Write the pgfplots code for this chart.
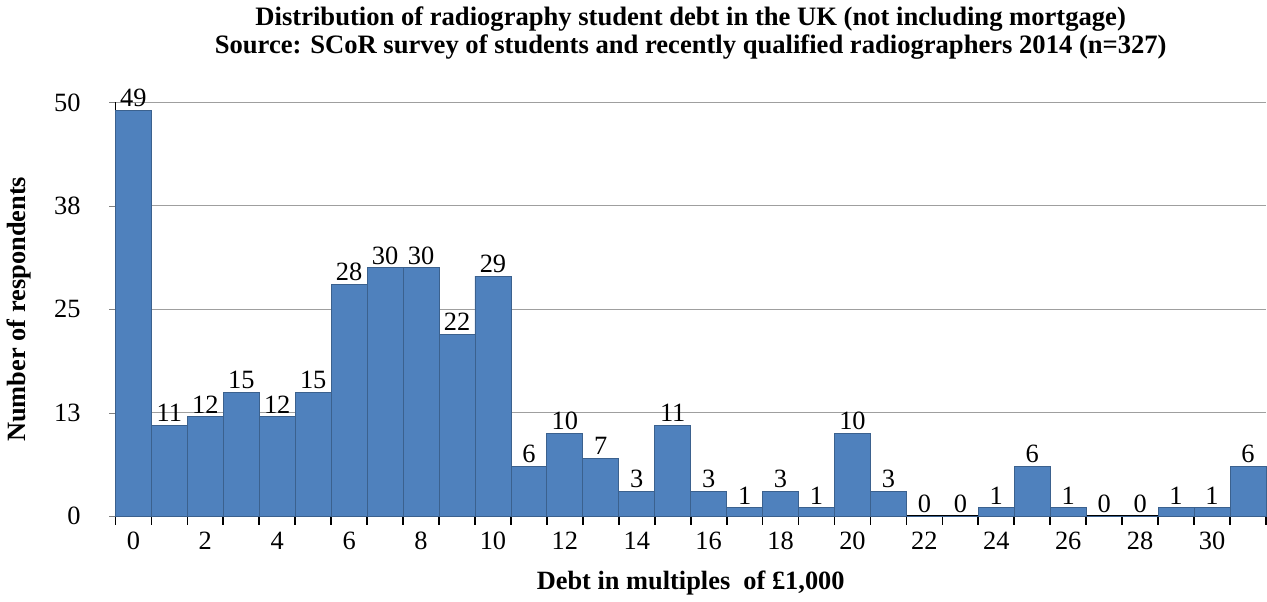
\documentclass[border=0pt]{standalone}
\usepackage{pgfplots}
\pgfplotsset{compat=1.18}
\usepackage{fontspec}
\setmainfont{Liberation Serif}
\definecolor{barblue}{HTML}{4F81BD}
\begin{document}
\begin{tikzpicture}
\begin{axis}[
  scale only axis,
  width=545pt, height=196pt,
  ybar, bar width=1,
  xmin=-0.5, xmax=31.5, ymin=0, ymax=50,
  axis lines*=left,
  x axis line style={line width=1pt},
  y axis line style={line width=0.5pt},
  tick align=outside,
  xtick={0,2,...,30},
  major x tick style={draw=none},
  minor xtick={-0.5,0.5,...,31.5},
  minor tick length=4pt,
  minor x tick style={black, line width=0.8pt},
  ytick={0,12.5,25,37.5,50},
  yticklabels={0,13,25,38,50},
  major tick length=3pt,
  ymajorgrids,
  grid style={gray!75, line width=0.6pt},
  /pgf/number format/assume math mode=true,
  ticklabel style={font=\fontsize{12.5}{14}\selectfont},
  xticklabel style={yshift=-1pt},
  yticklabel style={xshift=-10pt},
  nodes near coords,
  every node near coord/.append style={font=\fontsize{12.5}{14}\selectfont, black, inner sep=1.5pt},
  clip=false,
  title={Distribution of radiography student debt in the UK (not including mortgage)\\Source: SCoR survey of students and recently qualified radiographers 2014 (n=327)},
  title style={font=\bfseries\fontsize{12.6}{13}\selectfont, align=center, yshift=11pt},
  xlabel={Debt in multiples\ \ of £1,000},
  xlabel style={font=\bfseries\fontsize{12.5}{14}\selectfont, yshift=-3pt},
  ylabel={Number of respondents},
  ylabel style={font=\bfseries\fontsize{12.5}{14}\selectfont, yshift=4pt},
]
\addplot[fill=barblue, draw=barblue!75!black, line width=0.4pt] coordinates {
  (0,49) (1,11) (2,12) (3,15) (4,12) (5,15) (6,28) (7,30) (8,30) (9,22)
  (10,29) (11,6) (12,10) (13,7) (14,3) (15,11) (16,3) (17,1) (18,3) (19,1)
  (20,10) (21,3) (22,0) (23,0) (24,1) (25,6) (26,1) (27,0) (28,0) (29,1)
  (30,1) (31,6)
};
\end{axis}
\end{tikzpicture}
\end{document}
